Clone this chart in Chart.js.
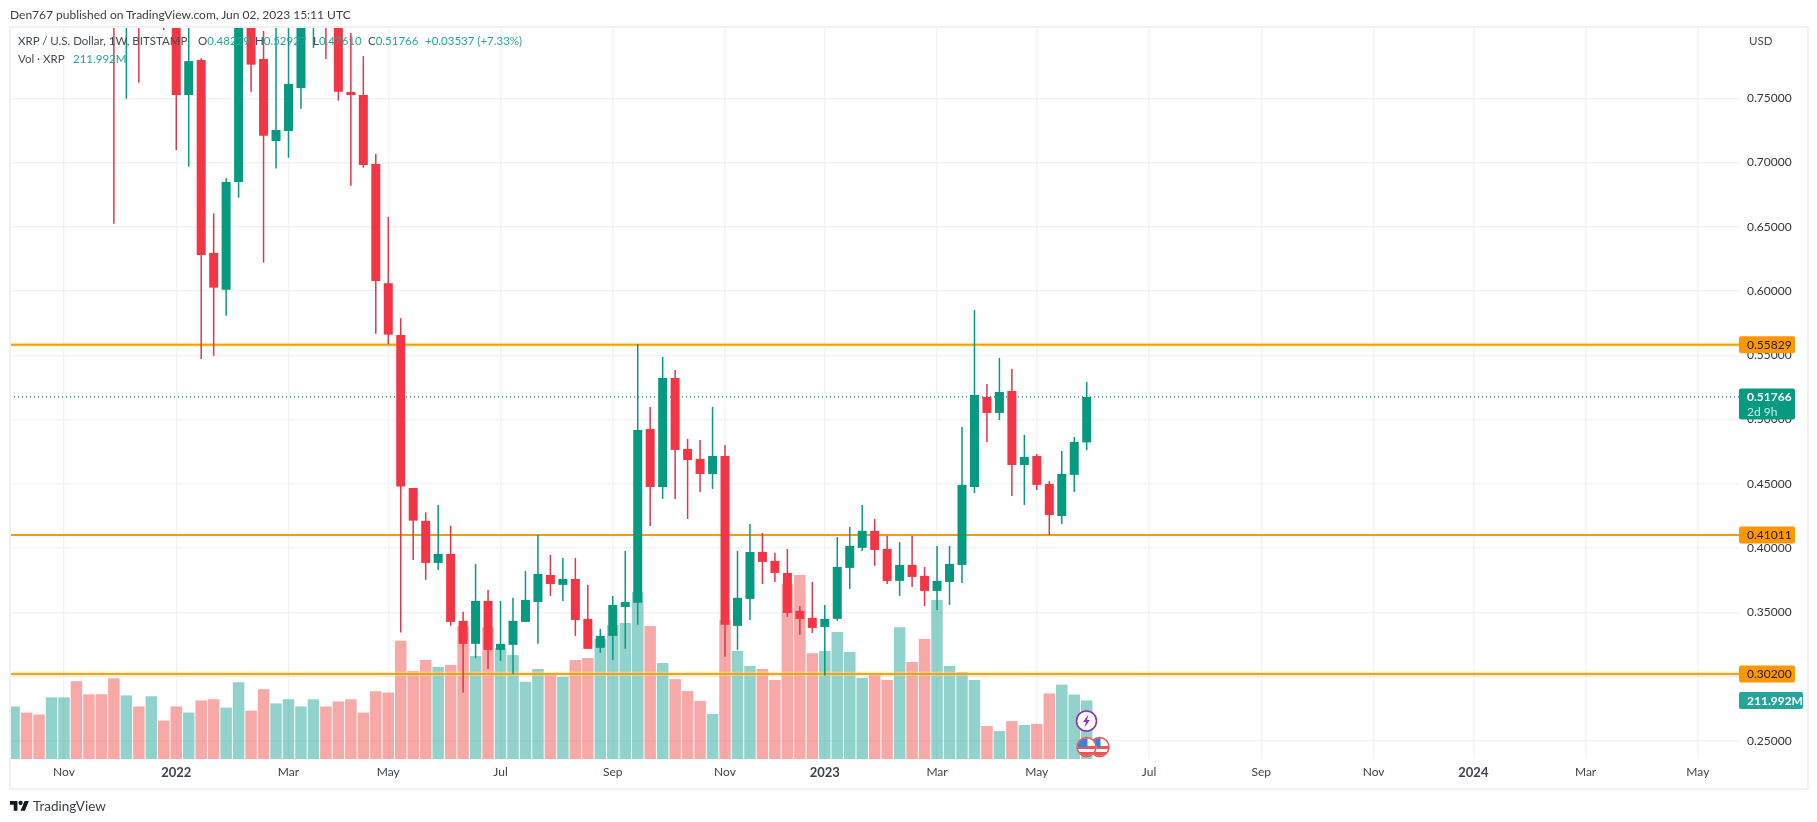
<!DOCTYPE html>
<html><head><meta charset="utf-8">
<script src="https://cdn.jsdelivr.net/npm/chart.js@4"></script>
<style>
html,body{margin:0;padding:0;background:#fff;overflow:hidden}
#wrap{position:relative;width:1817px;height:822px;font-family:Lato,"Open Sans",sans-serif}
canvas{position:absolute;left:0;top:0}
.t{position:absolute;white-space:nowrap;font-size:11.5px;line-height:16px;color:#444b55}
.g{color:#26a69a}
#frame{position:absolute;left:9px;top:26px;width:1796px;height:760px;border:2px solid #f0f1f4;pointer-events:none}
svg{position:absolute;left:0;top:0;pointer-events:none}
</style></head><body>
<div id="wrap">
<canvas id="c" width="1817" height="822"></canvas>
<div id="frame"></div>
<div class="t" style="left:10px;top:7px;font-size:12px;color:#3c4043">Den767 published on TradingView.com, Jun 02, 2023 15:11 UTC</div>
<div class="t" style="left:18px;top:33px">XRP / U.S. Dollar, 1W, BITSTAMP</div>
<div class="t" style="left:198px;top:33px">O<span class="g">0.48229</span></div>
<div class="t" style="left:255px;top:33px">H<span class="g">0.52927</span></div>
<div class="t" style="left:313px;top:33px">L<span class="g">0.47610</span></div>
<div class="t" style="left:368px;top:33px">C<span class="g">0.51766</span></div>
<div class="t g" style="left:425px;top:33px">+0.03537 (+7.33%)</div>
<div class="t" style="left:18px;top:51px">Vol · XRP</div>
<div class="t g" style="left:73px;top:51px">211.992M</div>
<div class="t" style="left:1749px;top:33px;font-size:11.5px">USD</div>
<div class="t" style="left:33px;top:798px;font-size:13.5px;color:#3a3f47">TradingView</div>
<svg width="1817" height="822" viewBox="0 0 1817 822">
  <g transform="translate(10,799) scale(0.53)" fill="#131722">
    <path d="M14 22H7V11H0V4h14v18zM28 22h-8l7.5-18h8L28 22z"/><circle cx="20" cy="7.5" r="4"/>
  </g>
  <defs>
    <clipPath id="fc"><circle cx="0" cy="0" r="9"/></clipPath>
    <g id="flag">
      <circle r="10" fill="#fff"/>
      <g clip-path="url(#fc)">
        <rect x="-9" y="-9" width="18" height="18" fill="#fff"/>
        <rect x="-9" y="-1" width="18" height="3" fill="#e8555a"/>
        <rect x="-9" y="5" width="18" height="4" fill="#e8555a"/>
        <rect x="-9" y="-9" width="10" height="9" fill="#3f7fd6"/>
      </g>
      <circle r="9.5" fill="none" stroke="#e25a5f" stroke-width="1.6"/>
    </g>
  </defs>
  <use href="#flag" x="1099.5" y="747"/>
  <use href="#flag" x="1086.5" y="747"/>
  <circle cx="1086.5" cy="721" r="10" fill="#fff" stroke="#8e35b5" stroke-width="1.6"/>
  <path d="M1088.5 714.5l-5.5 7.5h3l-1.5 5.5 5.5-7.5h-3z" fill="#8e35b5"/>
</svg>
</div>
<script>
const open = [null,null,null,null,null,null,null,null,.88,.85,.88,null,.90,.88,.7526,.7798,.6297,.6011,.6849,.84,.7806,.7168,.7246,.7580,.82,.87,.85,.7549,.7526,.6989,.6061,.5659,.4468,.4212,.3885,.3955,.3434,.3255,.3589,.3208,.3247,.3426,.3581,.3791,.3714,.3760,.3449,.3224,.3317,.3542,.3574,.4927,.4476,.5324,.4772,.4694,.4577,.4717,.3395,.3605,.3970,.3901,.3807,.3512,.3457,.3387,.3449,.3846,.4002,.4134,.3994,.3745,.3869,.3784,.3667,.3737,.3869,.4476,.5176,.5052,.5223,.4647,.4717,.4499,.4250,.4570,.48229];
const high = [null,null,null,null,null,null,null,null,.95,.95,.92,null,.95,.90,.85,.7811,.6605,.6878,.85,.86,.8024,.83,.82,.86,.87,.88,.87,.8008,.7829,.7067,.6577,.5789,.4468,.4279,.4336,.4173,.3504,.3877,.3675,.3589,.3613,.3823,.4103,.3947,.3924,.3924,.3714,.3371,.3628,.3978,.5589,.5099,.5488,.5386,.4850,.4842,.5099,.4803,.3978,.4188,.4118,.3963,.3994,.3550,.3737,.3558,.4087,.4165,.4336,.4227,.4095,.4048,.4095,.3854,.4017,.4017,.4943,.5853,.5277,.5480,.5394,.4881,.4733,.4523,.4756,.4865,.52927];
const low = [null,null,null,null,null,null,null,null,.6524,.7497,.7622,null,.8032,.7098,.6968,.5472,.5497,.5809,.6727,.7552,.6221,.6953,.7038,.7419,.7892,.7806,.7482,.6820,.6960,.5669,.5586,.3343,.3908,.3753,.3830,.3395,.2876,.3143,.3060,.3123,.3021,.3426,.3255,.3628,.3589,.3317,.3216,.3185,.3130,.3216,.3403,.4173,.4383,.4383,.4227,.4437,.4461,.3154,.3208,.3441,.3721,.3737,.3465,.3325,.3340,.3006,.3434,.3683,.3978,.3862,.3721,.3628,.3698,.3550,.3519,.3558,.3729,.4429,.4826,.4997,.4406,.4336,.4453,.4103,.4188,.4437,.47610];
const close = [null,null,null,null,null,null,null,null,.83,.88,.83,null,.85,.7526,.7790,.6281,.6027,.6849,.83,.7762,.7209,.7254,.7612,.83,.85,.82,.7552,.7526,.6981,.6079,.5661,.4479,.4214,.3885,.3955,.3426,.3255,.3589,.3208,.3255,.3434,.3597,.3799,.3721,.3760,.3441,.3216,.3317,.3558,.3581,.4920,.4476,.5324,.4764,.4686,.4577,.4717,.3403,.3613,.3970,.3893,.3807,.3496,.3449,.3379,.3449,.3854,.4017,.4134,.3986,.3745,.3869,.3776,.3667,.3745,.3877,.4492,.5192,.5052,.5215,.4647,.4710,.4492,.4258,.4577,.4826,.51766];
const volume = [190,168,161,223,223,281,234,234,292,230,190,227,139,190,168,212,216,186,278,175,252,201,216,190,216,190,208,216,168,245,241,428,318,358,333,340,481,373,477,401,376,279,326,304,297,358,365,434,485,492,604,481,347,289,246,210,163,503,391,336,326,286,633,666,383,391,459,387,293,307,286,477,351,434,575,336,315,286,119,101,137,123,127,237,269,233,211.992];
const volumeUp = [1,0,0,1,1,0,0,0,0,1,0,1,0,0,1,0,0,1,1,0,0,1,1,1,1,0,0,0,0,0,0,0,0,0,1,0,0,1,0,1,1,1,1,0,1,0,0,1,1,1,1,0,1,0,0,0,1,0,1,1,0,0,0,0,0,1,1,1,1,0,0,1,0,0,1,1,1,1,0,1,0,1,0,0,1,1,1];
const weekTicks = [4,13,22,30,39,48,57,65,74,82,91,100,109,117,126,135];
const weekTickLabels = ["Nov","2022","Mar","May","Jul","Sep","Nov","2023","Mar","May","Jul","Sep","Nov","2024","Mar","May"];
const priceTicks = [.25,.30,.35,.40,.45,.50,.55,.60,.65,.70,.75];
const levels = [.55829,.41011,.30200];
const lastPrice = .51766;
const lastVolumeLabel = "211.992M";
const countdown = "2d 9h";

const UP="#089981", DOWN="#f23645", WICKDOWN="#e0364a", VUP="rgba(38,166,154,.5)", VDOWN="rgba(239,83,80,.5)";
const XMIN=-0.33, XMAX=138.3;
const idx = open.map((_,i)=>i).filter(i=>open[i]!==null);
const col = i => close[i]>=open[i] ? UP : DOWN;
const wickCol = i => close[i]>=open[i] ? UP : WICKDOWN;
const hline = (v,color,w,order,dash) => ({type:'line',data:[{x:XMIN,y:v},{x:XMAX,y:v}],borderColor:color,borderWidth:w,pointRadius:0,order,yAxisID:'y',borderDash:dash||[],parsing:{xAxisKey:'x',yAxisKey:'y'}});

const labelsPlugin = {id:'priceLabels',afterDraw(chart){
  const c=chart.ctx,y=chart.scales.y,v=chart.scales.vol,L=chart.chartArea.right;
  const box=(top,h,w,fill)=>{c.fillStyle=fill;c.beginPath();c.roundRect(L,top,w,h,2);c.fill();};
  c.save();c.textBaseline='middle';c.textAlign='left';
  levels.forEach(l=>{const p=y.getPixelForValue(l);box(p-8.5,17,56,'#ff9800');
    c.fillStyle='#1a1a1a';c.font='12px Lato';c.fillText(l.toFixed(5),L+8,p+.5);});
  const p=y.getPixelForValue(lastPrice);box(p-8.5,31,56,UP);
  c.fillStyle='#fff';c.font='bold 12px Lato';c.fillText(lastPrice.toFixed(5),L+8,p+.5);
  c.fillStyle='#cdeee8';c.font='12px Lato';c.fillText(countdown,L+8,p+15);
  const q=v.getPixelForValue(volume[volume.length-1]);box(q-8.5,17,64,'#26a69a');
  c.fillStyle='#fff';c.font='bold 12px Lato';c.fillText(lastVolumeLabel,L+8,q+.5);
  c.restore();
}};

new Chart(document.getElementById('c'),{
  type:'bar',
  data:{datasets:[
    {label:'Body',data:idx.map(i=>({x:i,y:[open[i],close[i]]})),backgroundColor:idx.map(col),barThickness:9,grouped:false,order:2,yAxisID:'y',inflateAmount:0},
    {label:'Wick',data:idx.map(i=>({x:i,y:[low[i],high[i]]})),backgroundColor:idx.map(wickCol),barThickness:1.5,grouped:false,order:3,yAxisID:'y',inflateAmount:0},
    hline(lastPrice,'#05806b',1.2,4,[1,3]),
    hline(levels[0],'#eda412',2,5),
    hline(levels[0],'rgba(255,225,130,.55)',4,5.5),
    hline(levels[1],'#f59a10',2,5),
    hline(levels[2],'rgba(232,160,30,.92)',2,5),
    hline(levels[2],'rgba(255,225,130,.45)',5,5.5),
    {label:'Vol',data:volume.map((v,i)=>({x:i,y:v})),backgroundColor:volumeUp.map(u=>u?VUP:VDOWN),barThickness:11.5,grouped:false,order:6,yAxisID:'vol',inflateAmount:0}
  ]},
  plugins:[labelsPlugin],
  options:{
    responsive:false,animation:false,devicePixelRatio:1,
    layout:{padding:{left:10,right:10,top:27,bottom:35}},
    plugins:{legend:{display:false},tooltip:{enabled:false},title:{display:false}},
    scales:{
      x:{type:'linear',offset:false,min:XMIN,max:XMAX,
        afterBuildTicks(s){s.ticks=weekTicks.map(v=>({value:v}));},
        afterFit(s){s.height=28;},
        grid:{offset:false,color:'#f2f3f6',lineWidth:1.4,drawTicks:false,tickLength:0},border:{display:false},
        ticks:{autoSkip:false,maxRotation:0,minRotation:0,padding:6,color:'#3d434c',
          font:c=>{const l=weekTickLabels[weekTicks.indexOf(c.tick&&c.tick.value)]||'';return /^\d/.test(l)?{family:'Lato',size:13,weight:'bold'}:{family:'Lato',size:12};},
          callback:v=>weekTickLabels[weekTicks.indexOf(v)]||''}},
      y:{type:'linear',position:'right',min:.2359,max:.8055,
        afterBuildTicks(s){s.ticks=priceTicks.map(v=>({value:v}));},
        afterFit(s){s.width=68;},
        grid:{color:'#f2f3f6',lineWidth:1.4,drawTicks:false,tickLength:0},border:{display:false},
        ticks:{padding:8,color:'#2f343b',font:{family:'Lato',size:12},callback:v=>v.toFixed(5)}},
      vol:{type:'linear',display:false,min:0,max:2648,grid:{display:false}}
    }
  }
});
</script>
</body></html>
